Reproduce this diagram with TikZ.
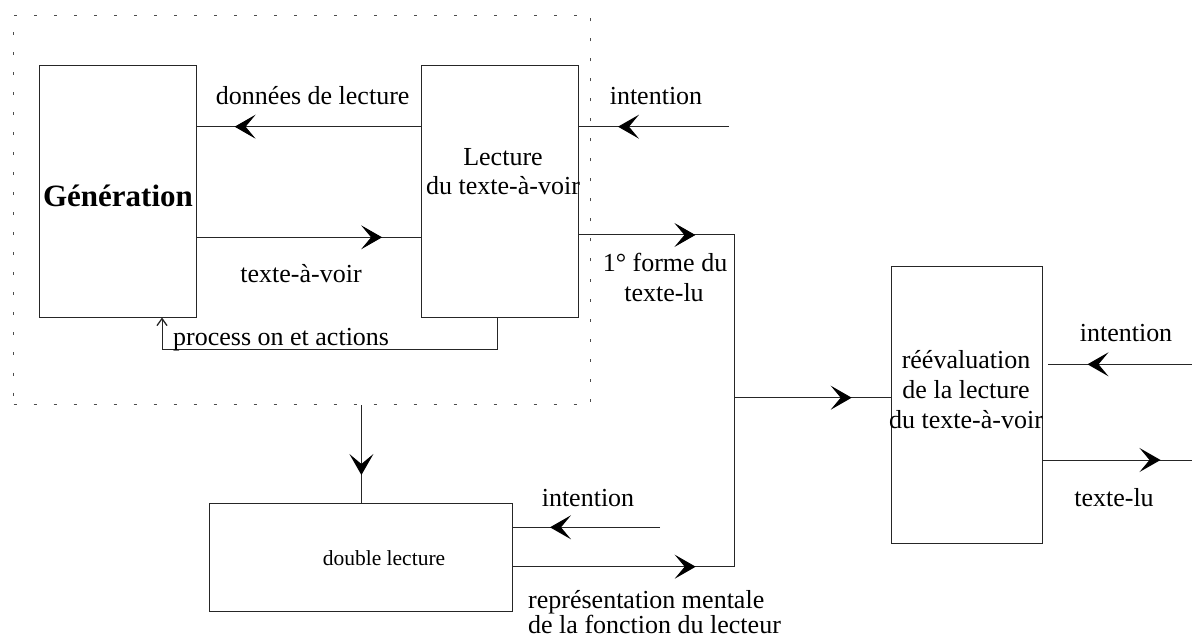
\documentclass[tikz,border=0pt]{standalone}
\usepackage{fontspec}
\setmainfont{Liberation Serif}
\usetikzlibrary{arrows.meta,decorations.markings}

\tikzset{
  box/.style={draw=black!85, line width=1pt, rectangle, inner sep=0pt},
  lbl/.style={inner sep=0pt, anchor=base, font=\fontsize{26}{30}\selectfont},
  conn/.style={draw=black!85, line width=1pt},
  head/.style={conn, postaction={decorate, decoration={markings,
      mark=at position #1 with {\arrow[black]{Stealth[length=21pt,width=24pt,inset=10pt]}}}}},
  frame/.style={draw=black!70, line width=1pt, dash pattern=on 3pt off 17pt, rectangle, inner sep=0pt},
}

\begin{document}
\begin{tikzpicture}[x=1pt,y=-1pt]
\useasboundingbox (0,0) rectangle (1192,639);

% dashed frame around the generation/reading loop
\node[frame, minimum width=577pt, minimum height=389pt] (frame) at (302,210) {};

% blocks
\node[box, minimum width=157pt, minimum height=251pt] (gen) at (117.8,191.5) {};
\node[box, minimum width=157pt, minimum height=251pt] (lect) at (500,191.5) {};
\node[box, minimum width=303pt, minimum height=108pt] (dbl) at (361.4,557.9) {};
\node[box, minimum width=150.6pt, minimum height=276.6pt] (reev) at (967,405) {};

% block texts
\node[lbl, font=\fontsize{31}{35}\selectfont\bfseries] (genT) at (118,207) {Génération};
\node[lbl] (lectT1) at (503,165.7) {Lecture};
\node[lbl] (lectT2) at (503,195) {du texte-à-voir};
\node[lbl, font=\fontsize{21.5}{25}\selectfont] (dblT) at (384,565.7) {double lecture};
\node[lbl] (reevT1) at (966,368.3) {réévaluation};
\node[lbl] (reevT2) at (966,398) {de la lecture};
\node[lbl] (reevT3) at (966,428) {du texte-à-voir};

% heights of the connectors
\coordinate (yDon) at (0,126.7);
\coordinate (yTxt) at (0,237.3);
\coordinate (yForme) at (0,235);
\coordinate (yRep) at (0,566.7);
\coordinate (yLu) at (0,460);

% free ends and corners
\coordinate (in1) at (729,126.7);
\coordinate (in2) at (660,527.3);
\coordinate (in3) at (1191.5,364.3);
\coordinate (in3end) at (1048.3,364.3);
\coordinate (out) at (1191.5,460);
\coordinate (cF) at (734.5,235);
\coordinate (cR) at (734.5,566.7);
\coordinate (junc) at (734.5,397.7);
\coordinate (pR) at (497.5,349);
\coordinate (pL) at (162,349);

% connectors inside the frame
\path[head=186.4pt] (lect.west |- yDon) -- (gen.east |- yDon);
\path[head=185.3pt] (gen.east |- yTxt) -- (lect.west |- yTxt);
\draw[conn, -{Straight Barb[length=7pt,width=10pt,line width=1.3pt]}] (lect.south -| pR) -- (pR) -- (pL) -- (gen.south -| pL);

% inputs
\path[head=111pt] (in1) -- (lect.east |- in1);
\path[head=110pt] (in2) -- (dbl.east |- in2);
\path[head=104pt] (in3) -- (in3end);

% outputs
\path[head=116.4pt] (lect.east |- yForme) -- (cF) -- (junc);
\path[head=182.3pt] (dbl.east |- yRep) -- (cR) -- (junc);
\path[head=117.2pt] (junc) -- (reev.west |- junc);
\path[head=117.7pt] (reev.east |- yLu) -- (out);
\path[head=70pt] (frame.south -| dbl.north) -- (dbl.north);

% connector labels
\node[lbl] (lDon) at (312.7,105) {données de lecture};
\node[lbl] (lTxt) at (301,283) {texte-à-voir};
\node[lbl, anchor=base west] (lProc) at (173,345) {process on et actions};
\node[lbl] (lInt1) at (656,105) {intention};
\node[lbl] (lForme1) at (665,271.7) {1° forme du};
\node[lbl] (lForme2) at (664,301.7) {texte-lu};
\node[lbl] (lInt2) at (588,506) {intention};
\node[lbl, anchor=base west] (lRep1) at (528,608) {représentation mentale};
\node[lbl, anchor=base west] (lRep2) at (528,633.5) {de la fonction du lecteur};
\node[lbl] (lInt3) at (1126,341.7) {intention};
\node[lbl] (lLu) at (1114,506) {texte-lu};
\end{tikzpicture}
\end{document}
